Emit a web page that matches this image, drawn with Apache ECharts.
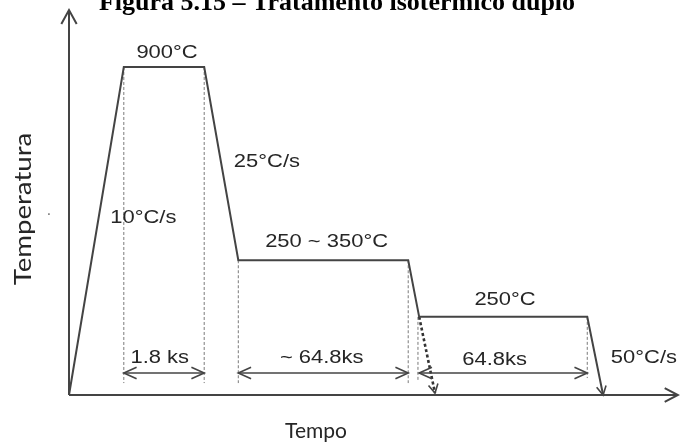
<!DOCTYPE html>
<html>
<head>
<meta charset="utf-8">
<script src="https://cdn.jsdelivr.net/npm/echarts@6/dist/echarts.min.js"></script>
<style>
  html, body { margin: 0; padding: 0; background: #ffffff; }
  #chart { width: 680px; height: 442px; }
</style>
</head>
<body>
<div id="chart"></div>
<script>
// Double isothermal treatment: schematic temperature–time cycle.
// Both axes are schematic (0–100 units), the diagram is not drawn to scale.

// Vertices of the thermal cycle
const cycleTime  = [0, 9.0, 22.2, 27.8, 55.7, 57.5, 85.1, 87.7];
const cycleLevel = [0, 85.2, 85.2, 35.0, 35.0, 20.3, 20.3, 0];

// Alternative direct cooling after the first hold (dashed)
const directTime  = [57.5, 60.1];
const directLevel = [20.3, 0.5];

// Vertical reference lines: time, upper level, lower level
const guideTime   = [9.0, 22.2, 27.8, 55.7, 57.3, 85.1];
const guideTop    = [85.2, 85.2, 35.0, 35.0, 20.3, 20.3];
const guideBottom = [3.1, 3.1, 3.1, 3.1, 3.9, 4.4];

// Duration spans (double arrows)
const spanLabel = ['1.8 ks', '~ 64.8ks', '64.8ks'];
const spanStart = [9.0, 27.8, 57.5];
const spanEnd   = [22.2, 55.7, 85.1];
const spanLevel = 5.7;

// Step annotations: temperatures and heating / cooling rates
const noteText = ['900°C', '10°C/s', '25°C/s', '250 ~ 350°C', '250°C', '50°C/s'];

// Annotation placement (axis units)
const noteAt = [[16.1, 88.8], [12.2, 46.0], [32.5, 60.5], [42.3, 39.7], [71.6, 24.7], [94.4, 9.6]];
const spanLabelAt = [[14.9, 9.6], [41.5, 9.6], [69.9, 9.1]];

const LINE = '#444444';
const GUIDE = '#7a7a7a';
const INK = '#262626';
const NOTE_FONT = '18px "Liberation Sans", Arial, Helvetica, sans-serif';
const NOTE_STRETCH = 1.22;

// Open "V" arrow head whose tip is at `tip`, pointing away from `from`
function openHead(tip, from, len, half) {
  const ang = Math.atan2(tip[1] - from[1], tip[0] - from[0]);
  const a1 = ang + Math.PI - half;
  const a2 = ang + Math.PI + half;
  return [
    [tip[0] + len * Math.cos(a1), tip[1] + len * Math.sin(a1)],
    tip,
    [tip[0] + len * Math.cos(a2), tip[1] + len * Math.sin(a2)]
  ];
}

function stroke(points, width, color, dash) {
  const style = { stroke: color, lineWidth: width, fill: null, lineJoin: 'miter', lineCap: 'butt' };
  if (dash) style.lineDash = dash;
  return { type: 'polyline', shape: { points: points }, style: style };
}

function note(pt, text) {
  return {
    type: 'text', x: pt[0], y: pt[1], scaleX: NOTE_STRETCH,
    style: { text: text, fill: INK, font: NOTE_FONT, align: 'center', verticalAlign: 'middle' }
  };
}

const chart = echarts.init(document.getElementById('chart'), null, { renderer: 'canvas' });

const option = {
  backgroundColor: '#ffffff',
  animation: false,
  grid: { left: 69, right: 2, top: 10, bottom: 47 },
  xAxis: { type: 'value', min: 0, max: 100, show: false },
  yAxis: { type: 'value', min: 0, max: 100, show: false },
  graphic: [
    {
      type: 'text', x: 337, y: 3,
      style: {
        text: 'Figura 5.15 – Tratamento isotérmico duplo',
        font: 'bold 26px "Liberation Serif", "Times New Roman", serif',
        fill: '#000000', align: 'center', verticalAlign: 'middle'
      }
    },
    {
      type: 'text', x: 316, y: 431,
      style: { text: 'Tempo', font: '21px Lato, "Open Sans", sans-serif', fill: INK, align: 'center', verticalAlign: 'middle' }
    },
    {
      type: 'text', x: 23, y: 209, rotation: Math.PI / 2, scaleX: 1.15,
      style: { text: 'Temperatura', font: '24px Lato, "Open Sans", sans-serif', fill: INK, align: 'center', verticalAlign: 'middle' }
    },
    {
      type: 'text', x: 49, y: 215,
      style: { text: '·', font: '16px "Liberation Sans", sans-serif', fill: '#777777', align: 'center', verticalAlign: 'middle' }
    }
  ],
  series: [
    // Axes with open arrow heads
    {
      type: 'custom', clip: false, z: 2,
      data: [[0, 0]],
      renderItem: function (params, api) {
        const o = api.coord([0, 0]);
        const yTop = api.coord([0, 100]);
        const xEnd = api.coord([100, 0]);
        return {
          type: 'group',
          children: [
            stroke([o, yTop], 2, LINE),
            stroke([o, xEnd], 2, LINE),
            stroke(openHead(yTop, o, 16, 0.50), 2, LINE),
            stroke(openHead(xEnd, o, 15, 0.48), 2, LINE)
          ]
        };
      }
    },
    // Vertical reference lines
    {
      type: 'custom', clip: false, z: 1,
      data: guideTime.map(function (t, i) { return [t, guideTop[i], guideBottom[i]]; }),
      renderItem: function (params, api) {
        const a = api.coord([api.value(0), api.value(1)]);
        const b = api.coord([api.value(0), api.value(2)]);
        return stroke([a, b], 1, GUIDE, [3, 2]);
      }
    },
    // Thermal cycle
    {
      type: 'line', z: 3,
      data: cycleTime.map(function (t, i) { return [t, cycleLevel[i]]; }),
      symbol: 'none', showSymbol: false,
      lineStyle: { color: LINE, width: 2, join: 'miter' }
    },
    // Arrow head at the end of the final cooling
    {
      type: 'custom', clip: false, z: 3,
      data: [[cycleTime[cycleTime.length - 1], cycleLevel[cycleLevel.length - 1],
              cycleTime[cycleTime.length - 2], cycleLevel[cycleLevel.length - 2]]],
      renderItem: function (params, api) {
        const tip = api.coord([api.value(0), api.value(1)]);
        const from = api.coord([api.value(2), api.value(3)]);
        return stroke(openHead(tip, from, 10, 0.5), 1.6, LINE);
      }
    },
    // Direct cooling, dashed with arrow head
    {
      type: 'custom', clip: false, z: 3,
      data: [[directTime[0], directLevel[0], directTime[1], directLevel[1]]],
      renderItem: function (params, api) {
        const a = api.coord([api.value(0), api.value(1)]);
        const b = api.coord([api.value(2), api.value(3)]);
        return {
          type: 'group',
          children: [
            stroke([a, b], 2.6, '#333333', [3, 2.5]),
            stroke(openHead(b, a, 10, 0.5), 1.6, LINE)
          ]
        };
      }
    },
    // Duration spans with double arrow heads and labels
    {
      type: 'custom', clip: false, z: 4,
      data: spanStart.map(function (s, i) { return [s, spanEnd[i], spanLevel, i]; }),
      renderItem: function (params, api) {
        const i = api.value(3);
        const a = api.coord([api.value(0), api.value(2)]);
        const b = api.coord([api.value(1), api.value(2)]);
        return {
          type: 'group',
          children: [
            stroke([a, b], 1.6, LINE),
            stroke(openHead(a, b, 14, 0.42), 1.6, LINE),
            stroke(openHead(b, a, 14, 0.42), 1.6, LINE),
            note(api.coord(spanLabelAt[i]), spanLabel[i])
          ]
        };
      }
    },
    // Step annotations
    {
      type: 'custom', clip: false, z: 4,
      data: noteText.map(function (t, i) { return [noteAt[i][0], noteAt[i][1], i]; }),
      renderItem: function (params, api) {
        const i = api.value(2);
        return note(api.coord([api.value(0), api.value(1)]), noteText[i]);
      }
    }
  ]
};

chart.setOption(option);
</script>
</body>
</html>
